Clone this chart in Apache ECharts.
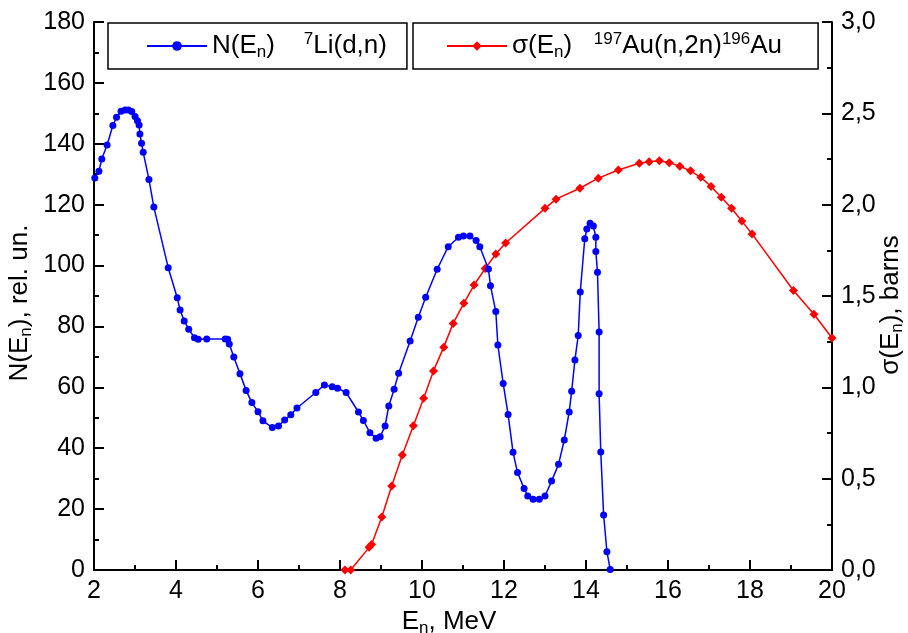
<!DOCTYPE html>
<html><head><meta charset="utf-8">
<script src="https://cdn.jsdelivr.net/npm/echarts@6/dist/echarts.min.js"></script>
<style>html,body{margin:0;padding:0;background:#fff}#c{width:908px;height:633px}</style>
</head><body><div id="c"></div>
<script>
// Neutron spectrum N(En), 7Li(d,n)
var energyN = [2.02,2.12,2.19,2.32,2.46,2.55,2.66,2.76,2.84,2.92,3.00,3.06,3.10,3.12,3.16,3.20,3.34,3.46,3.81,4.03,4.10,4.20,4.31,4.45,4.54,4.75,5.20,5.26,5.30,5.41,5.56,5.71,5.85,6.00,6.12,6.35,6.50,6.65,6.80,6.95,7.41,7.62,7.81,7.94,8.15,8.45,8.57,8.73,8.88,8.98,9.10,9.19,9.32,9.43,9.71,9.91,10.09,10.37,10.64,10.89,11.01,11.17,11.32,11.41,11.62,11.67,11.80,11.85,11.98,12.10,12.22,12.33,12.49,12.58,12.71,12.86,13.00,13.16,13.33,13.47,13.59,13.65,13.73,13.81,13.86,13.97,14.02,14.10,14.18,14.24,14.24,14.28,14.32,14.32,14.36,14.43,14.51,14.59];
var countsN = [128.8,131.0,135.0,139.6,146.0,148.7,150.7,151.1,151.1,150.6,149.0,147.6,146.2,143.2,140.2,137.2,128.3,119.2,99.3,89.4,85.4,81.8,79.1,76.3,75.8,75.9,75.9,75.8,74.2,70.0,64.5,59.0,55.0,52.0,49.0,46.8,47.3,49.3,51.0,53.2,58.3,60.8,60.2,59.7,58.3,51.9,49.1,45.1,43.3,43.8,47.3,53.9,59.4,64.6,75.2,83.0,89.6,98.8,106.2,109.3,109.7,109.7,108.2,106.2,98.9,93.4,84.9,73.9,61.3,51.1,38.7,32.0,26.8,24.3,23.2,23.2,24.3,29.2,34.7,42.7,51.9,58.7,69.0,77.0,91.3,108.8,112.0,113.9,113.0,109.3,104.6,97.8,78.2,57.9,38.8,18.1,6.0,0.2];
// Cross section 197Au(n,2n)196Au, barns
var energyS = [8.12,8.26,8.71,8.77,9.02,9.26,9.52,9.79,10.04,10.28,10.53,10.76,11.02,11.27,11.54,11.80,12.04,13.00,13.27,13.85,14.30,14.79,15.30,15.54,15.79,16.03,16.29,16.55,16.80,17.05,17.30,17.55,17.80,18.05,19.06,19.56,20.00];
var sigma = [0.00,0.00,0.124,0.14,0.29,0.46,0.63,0.79,0.94,1.09,1.22,1.35,1.46,1.56,1.65,1.73,1.79,1.98,2.03,2.09,2.145,2.19,2.227,2.235,2.24,2.23,2.21,2.185,2.15,2.10,2.04,1.98,1.91,1.84,1.53,1.40,1.27];
var xTicks = {min:2, max:20, interval:2};
var yLeft = {min:0, max:180, interval:20};
var yRight = {min:0, max:3, interval:0.5};

function zip(a,b){return a.map(function(v,i){return [v,b[i]];});}
var FONT = 'Liberation Sans';
var rich = {
  t:{fontFamily:FONT,fontSize:26,color:'#000',lineHeight:30},
  sub:{fontFamily:FONT,fontSize:17,color:'#000',lineHeight:30,verticalAlign:'bottom'},
  sup:{fontFamily:FONT,fontSize:17,color:'#000',lineHeight:30,verticalAlign:'top'}
};
var nameRich = {
  t:{fontFamily:FONT,fontSize:26,color:'#000',lineHeight:30},
  sub:{fontFamily:FONT,fontSize:17,color:'#000',lineHeight:30,verticalAlign:'bottom'}
};
var labelStyle = {color:'#000',fontFamily:FONT,fontSize:25,margin:9};
var chart = echarts.init(document.getElementById('c'), null, {renderer:'canvas'});
var axisCommon = {
  nameMoveOverlap:false,
  axisLine:{show:true,onZero:false,lineStyle:{color:'#000',width:2}},
  axisTick:{show:true,inside:true,length:10,lineStyle:{color:'#000',width:2}},
  minorTick:{show:true,splitNumber:2,length:5,lineStyle:{color:'#000',width:2}},
  splitLine:{show:false},
  axisLabel:labelStyle
};
chart.setOption({
  animation:false,
  backgroundColor:'#fff',
  grid:{left:94,right:76,top:22,bottom:63,containLabel:false,outerBoundsMode:'none'},
  legend:[
    {data:['N'],left:108,top:23,orient:'horizontal',borderColor:'#000',borderWidth:1.5,padding:[8,20,8,38],
     itemWidth:60,itemHeight:12,itemGap:8,
     formatter:function(){return '{t|N(E}{sub|n}{t|)    }{sup|7}{t|Li(d,n)}';},
     textStyle:{rich:rich}},
    {data:['S'],left:413,top:23,orient:'horizontal',borderColor:'#000',borderWidth:1.5,padding:[8,36,8,33],
     itemWidth:60,itemHeight:12,itemGap:8,
     formatter:function(){return '{t|σ(E}{sub|n}{t|)   }{sup|197}{t|Au(n,2n)}{sup|196}{t|Au}';},
     textStyle:{rich:rich}}
  ],
  xAxis:Object.assign({type:'value',min:xTicks.min,max:xTicks.max,interval:xTicks.interval,
    name:'{t|E}{sub|n}{t|, MeV}',nameLocation:'middle',nameGap:37,nameTextStyle:{rich:nameRich,padding:[0,28,0,0]}},axisCommon),
  yAxis:[
    Object.assign({type:'value',min:yLeft.min,max:yLeft.max,interval:yLeft.interval,position:'left',
      name:'{t|N(E}{sub|n}{t|), rel. un.}',nameLocation:'middle',nameGap:59,nameRotate:90,nameTextStyle:{rich:nameRich,padding:[0,14,0,0]}},axisCommon),
    Object.assign({type:'value',min:yRight.min,max:yRight.max,interval:yRight.interval,position:'right',
      name:'{t|σ(E}{sub|n}{t|), barns}',nameLocation:'middle',nameGap:44,nameRotate:90,nameTextStyle:{rich:nameRich,padding:[0,18,0,0]}},axisCommon,
      {axisLabel:Object.assign({},labelStyle,{formatter:function(v){return v.toFixed(1).replace('.',',');}})})
  ],
  series:[
    {name:'N',type:'line',yAxisIndex:0,data:zip(energyN,countsN),symbol:'circle',symbolSize:7,
     lineStyle:{color:'#0000ff',width:1.5},itemStyle:{color:'#0000ff'},z:3},
    {name:'S',type:'line',yAxisIndex:1,data:zip(energyS,sigma),symbol:'diamond',symbolSize:9,
     lineStyle:{color:'#ff0000',width:1.5},itemStyle:{color:'#ff0000'},z:2}
  ]
});
</script></body></html>
